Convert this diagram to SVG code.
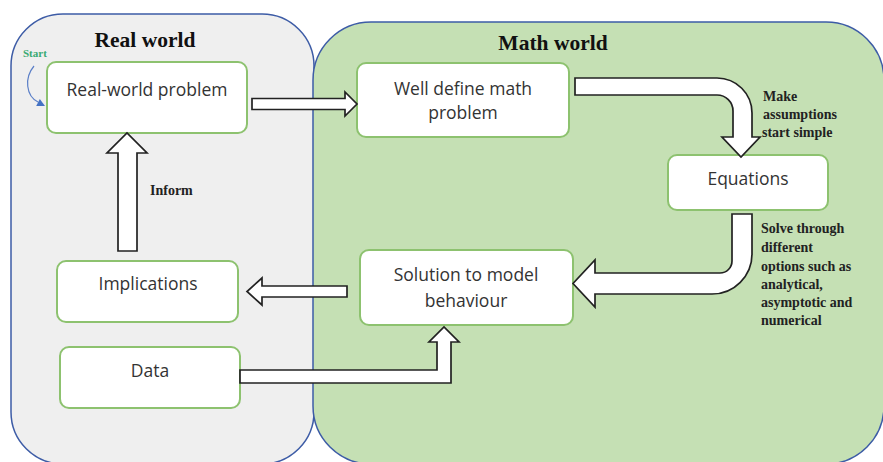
<svg xmlns="http://www.w3.org/2000/svg" width="883" height="462" viewBox="0 0 883 462">
  <style>
    .zone-real { fill: #efefef; stroke: #3d5ca6; stroke-width: 1.5; }
    .zone-math { fill: #c5e0b4; stroke: #3d5ca6; stroke-width: 1.5; }
    .title { font-family: "Liberation Serif", "Times New Roman", serif; font-weight: bold; font-size: 21.5px; fill: #111; text-anchor: middle; }
    .box { fill: #ffffff; stroke: #8dc26f; stroke-width: 2; }
    .label { font-family: "Open Sans", "DejaVu Sans", sans-serif; font-size: 17.5px; fill: #333; text-anchor: middle; }
    .note { font-family: "Liberation Serif", "Times New Roman", serif; font-weight: bold; font-size: 14px; fill: #222; }
    .block { fill: #ffffff; stroke: #222; stroke-width: 1.7; stroke-linejoin: miter; }
  </style>

  <!-- regions -->
  <g id="real-world">
    <rect class="zone-real" x="11" y="14" width="303" height="450" rx="52"/>
    <text class="title" x="145" y="47">Real world</text>
  </g>
  <g id="math-world">
    <rect class="zone-math" x="313" y="22" width="571" height="442" rx="58"/>
    <text class="title" x="553" y="50">Math world</text>
  </g>

  <!-- start marker -->
  <g id="start">
    <text x="23" y="57" font-family="Liberation Serif, serif" font-weight="bold" font-size="11" fill="#3aaa72">Start</text>
    <path d="M34,66 C24,78 26,96 38,102" fill="none" stroke="#5b7fc7" stroke-width="1.2"/>
    <polygon points="45,106 36.2,106.1 39.8,98.9" fill="#4472c4"/>
  </g>

  <!-- nodes -->
  <g id="real-world-problem">
    <rect class="box" x="47" y="62" width="200" height="71" rx="9"/>
    <text class="label" x="147" y="96">Real-world problem</text>
  </g>
  <g id="well-defined-problem">
    <rect class="box" x="357" y="63" width="212" height="74" rx="9"/>
    <text class="label" x="463" y="95">Well define math</text>
    <text class="label" x="463" y="119">problem</text>
  </g>
  <g id="equations">
    <rect class="box" x="668" y="155" width="160" height="55" rx="9"/>
    <text class="label" x="748" y="185">Equations</text>
  </g>
  <g id="solution">
    <rect class="box" x="360" y="250" width="213" height="75" rx="9"/>
    <text class="label" x="466" y="281">Solution to model</text>
    <text class="label" x="466" y="307">behaviour</text>
  </g>
  <g id="implications">
    <rect class="box" x="57" y="261" width="181" height="61" rx="9"/>
    <text class="label" x="148" y="290">Implications</text>
  </g>
  <g id="data">
    <rect class="box" x="60" y="347" width="180" height="61" rx="9"/>
    <text class="label" x="150" y="377">Data</text>
  </g>

  <!-- block arrows -->
  <g id="connectors">
    <path class="block" d="M252,98.5 H345 V92 L357,104 L345,116 V109.5 H252 Z"/>
    <path class="block" d="M575,78 H717 A35,35 0 0 1 752,113 V137 H760 L741,157 L722,137 H733 V111 A16,16 0 0 0 717,95 H575 Z"/>
    <path class="block" d="M732,214 H752 V254 A40,40 0 0 1 712,294 H595 V307 L573,283.5 L595,260 V273 H720 A12,12 0 0 0 732,261 Z"/>
    <path class="block" d="M347,286 H262 V278 L247,291.5 L262,305 V297 H347 Z"/>
    <path class="block" d="M240,370 H437 V342 H429 L444,327 L459,342 H451 V383 H240 Z"/>
    <path class="block" d="M118,251 V153 H107 L127,133 L147,153 H137 V251 Z"/>
  </g>

  <!-- step notes -->
  <g id="notes">
    <text class="note" x="763" y="101">Make</text>
    <text class="note" x="763" y="119">assumptions</text>
    <text class="note" x="762" y="137">start simple</text>
    <text class="note" x="150" y="195">Inform</text>
    <text class="note" x="761" y="233">Solve through</text>
    <text class="note" x="761" y="252">different</text>
    <text class="note" x="761" y="271">options such as</text>
    <text class="note" x="761" y="289">analytical,</text>
    <text class="note" x="761" y="307">asymptotic and</text>
    <text class="note" x="761" y="325">numerical</text>
  </g>
</svg>
